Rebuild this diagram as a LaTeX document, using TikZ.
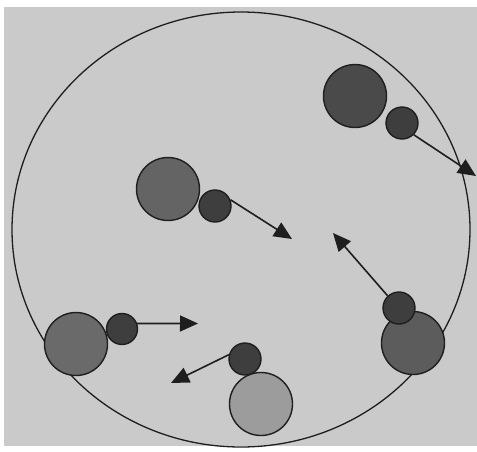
\documentclass[tikz,border=0pt]{standalone}
\usetikzlibrary{arrows.meta,shapes.geometric}
\definecolor{bggray}{HTML}{CACACA}
\definecolor{dotc}{HTML}{3E3E3E}
\definecolor{bigA}{HTML}{4A4A4A}
\definecolor{bigB}{HTML}{646464}
\definecolor{bigC}{HTML}{5C5C5C}
\definecolor{bigD}{HTML}{6A6A6A}
\definecolor{bigE}{HTML}{9C9C9C}
\definecolor{inkc}{HTML}{1E1E1E}
\tikzset{
  particle/.style={circle, draw=inkc, line width=1.4pt, inner sep=0pt},
  bigp/.style={particle, minimum size=63pt},
  smallp/.style={particle, fill=dotc, minimum size=32pt},
  move/.style={draw=inkc, line width=1.6pt, -{Triangle[length=18pt,width=16pt]}}
}
\begin{document}
\begin{tikzpicture}[x=1pt,y=-1pt]
\useasboundingbox (0,0) rectangle (477,451);
\fill[white] (0,0) rectangle (477,451);
\fill[bggray] (4,7) rectangle (477,446);
\node[draw=inkc, line width=1.3pt, ellipse, minimum width=458pt, minimum height=435pt, inner sep=0pt] (vessel) at (241,229.5) {};
% particles
\node[bigp, fill=bigA] (b1) at (355,96) {};
\node[smallp] (s1) at (402,123) {};
\node[bigp, fill=bigB] (b2) at (168,189) {};
\node[smallp] (s2) at (215,206) {};
\node[bigp, fill=bigC] (b3) at (413,343) {};
\node[smallp] (s3) at (399,308) {};
\node[bigp, fill=bigD] (b4) at (76,344) {};
\node[smallp, minimum size=31pt] (s4) at (122,329) {};
\node[bigp, fill=bigE] (b5) at (261,404) {};
\node[smallp] (s5) at (245,359) {};
% arrow targets
\coordinate (t1) at (476,176);
\coordinate (t2) at (292,239);
\coordinate (t3) at (333,233);
\coordinate (t4) at (198,323.5);
\coordinate (t5) at (171,383);
\draw[move] (s1.-45) -- (t1);
\draw[move] (s2.22) -- (t2);
\draw[move] (s3.133) -- (t3);
\draw[move] (s4.20.6) -- (t4);
\draw[move] (s5.165) -- (t5);
\end{tikzpicture}
\end{document}
